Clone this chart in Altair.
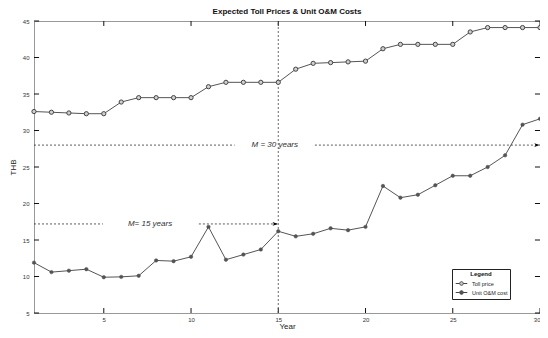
import altair as alt
import pandas as pd

years = list(range(1, 31))
toll_price = [32.6, 32.5, 32.4, 32.3, 32.3, 33.9, 34.5, 34.5, 34.5, 34.5,
              36.0, 36.6, 36.6, 36.6, 36.6, 38.4, 39.2, 39.3, 39.4, 39.5,
              41.2, 41.8, 41.8, 41.8, 41.8, 43.5, 44.1, 44.1, 44.1, 44.1]
om_cost = [11.9, 10.6, 10.8, 11.0, 9.9, 9.95, 10.1, 12.2, 12.1, 12.7,
           16.8, 12.3, 13.0, 13.7, 16.2, 15.5, 15.85, 16.6, 16.35, 16.8,
           22.4, 20.8, 21.2, 22.5, 23.8, 23.8, 25.0, 26.6, 30.8, 31.6]
series_names = ["Toll price", "Unit O&M cost"]

x_ticks = [5, 10, 15, 20, 25, 30]
y_ticks = [5, 10, 15, 20, 25, 30, 35, 40, 45]

# annotations
ann_text = ["M = 30 years", "M= 15 years"]
ann_x = [14.8, 7.65]
ann_y = [28.0, 17.2]
seg_x = [1, 17.1, 1, 10.45]
seg_x2 = [12.5, 30, 4.95, 15]
seg_y = [28.0, 28.0, 17.2, 17.2]
arrow_x = [30, 15]
arrow_y = [28.0, 17.2]
vline_year = 15

FONT = "Liberation Sans"
XMIN, XMAX, YMIN, YMAX = 1, 30, 5, 45

df = pd.DataFrame({
    "year": years * 2,
    "value": toll_price + om_cost,
    "series": [series_names[0]] * 30 + [series_names[1]] * 30,
})

xs = alt.Scale(domain=[XMIN, XMAX], nice=False, zero=False)
ys = alt.Scale(domain=[YMIN, YMAX], nice=False, zero=False)

x_axis = alt.Axis(values=x_ticks, tickSize=0, domain=False, grid=False,
                  labelPadding=3, labelFontSize=6, labelColor="#333", labelFlush=True,
                  titleFontSize=8, titleFontWeight="normal", labelOverlap=False,
                  titleColor="#222", titlePadding=0, labelFont=FONT, titleFont=FONT)
y_axis = alt.Axis(values=y_ticks, tickSize=0, domain=False, grid=False,
                  labelPadding=5, labelFontSize=6, labelColor="#333",
                  titleFontSize=8, titleFontWeight="normal", labelOverlap=False,
                  titleColor="#222", titlePadding=5, labelFont=FONT, titleFont=FONT)


def X(field):
    return alt.X(field, scale=xs, axis=x_axis, title="Year")


def Y(field):
    return alt.Y(field, scale=ys, axis=y_axis, title="THB")


base = alt.Chart(df)

lines = base.mark_line(strokeWidth=1, color="#555").encode(
    x=X("year:Q"), y=Y("value:Q"), detail="series:N",
)

legend_path = ("M-1.6,0H-0.5 M0.5,0H1.6 "
               "M0.5,0A0.5,0.5 0 1,1 -0.5,0A0.5,0.5 0 1,1 0.5,0")
fill_scale = alt.Scale(domain=series_names, range=["#cfcfcf", "#555555"])
leg = alt.Legend(title="Legend", orient="none", legendX=418, legendY=248,
                 titleAnchor="middle", titleFontSize=6, titleFont=FONT,
                 titleFontWeight="bold", labelFontSize=5.5, labelFont=FONT,
                 labelColor="#222", titleColor="#111",
                 strokeColor="#222", fillColor="white", padding=2,
                 symbolType=legend_path, symbolSize=52, symbolStrokeColor="#444",
                 symbolStrokeWidth=1, rowPadding=0, titlePadding=2,
                 symbolOffset=3, labelOffset=6, titleLimit=100)

toll_pts = base.transform_filter(alt.datum.series == series_names[0]).mark_point(
    shape="circle", size=18, filled=True, stroke="#444", strokeWidth=1, opacity=1
).encode(x=X("year:Q"), y=Y("value:Q"),
         fill=alt.Fill("series:N", scale=fill_scale, legend=leg))

om_pts = base.transform_filter(alt.datum.series == series_names[1]).mark_point(
    shape="circle", size=12, filled=True, stroke="#444", strokeWidth=0.5, opacity=1
).encode(x=X("year:Q"), y=Y("value:Q"),
         fill=alt.Fill("series:N", scale=fill_scale, legend=leg))

# vertical dashed line
vdf = pd.DataFrame({"x": [vline_year], "y": [YMIN], "y2": [YMAX]})
vline = alt.Chart(vdf).mark_rule(strokeDash=[2, 2], color="#444", strokeWidth=0.8).encode(
    x=X("x:Q"), y=Y("y:Q"), y2="y2:Q")

sdf = pd.DataFrame({"x": seg_x, "x2": seg_x2, "y": seg_y})
segs = alt.Chart(sdf).mark_rule(strokeDash=[2, 2], color="#333", strokeWidth=0.8).encode(
    x=X("x:Q"), x2="x2:Q", y=Y("y:Q"))

adf = pd.DataFrame({"x": arrow_x, "y": arrow_y})
arrows = alt.Chart(adf).mark_point(shape="M-1,-0.7L1,0L-1,0.7L-0.5,0Z", filled=True, color="#000",
                                   size=30, opacity=1, xOffset=-3).encode(
    x=X("x:Q"), y=Y("y:Q"))

tdf = pd.DataFrame({"x": ann_x, "y": ann_y, "t": ann_text})
texts = alt.Chart(tdf).mark_text(fontStyle="italic", fontSize=8, font=FONT, color="#333").encode(
    x=X("x:Q"), y=Y("y:Q"), text="t:N")

# inward ticks (MATLAB style)
tick_len_x = 0.29
tick_len_y = 0.68
bt = pd.DataFrame({"x": x_ticks, "y": [YMIN] * len(x_ticks), "y2": [YMIN + tick_len_y] * len(x_ticks)})
tt = pd.DataFrame({"x": x_ticks, "y": [YMAX - tick_len_y] * len(x_ticks), "y2": [YMAX] * len(x_ticks)})
lt = pd.DataFrame({"y": y_ticks, "x": [XMIN] * len(y_ticks), "x2": [XMIN + tick_len_x] * len(y_ticks)})
rt = pd.DataFrame({"y": y_ticks, "x": [XMAX - tick_len_x] * len(y_ticks), "x2": [XMAX] * len(y_ticks)})
tick_style = dict(color="#111", strokeWidth=1)
ticks = [
    alt.Chart(bt).mark_rule(**tick_style).encode(x=X("x:Q"), y=Y("y:Q"), y2="y2:Q"),
    alt.Chart(tt).mark_rule(**tick_style).encode(x=X("x:Q"), y=Y("y:Q"), y2="y2:Q"),
    alt.Chart(lt).mark_rule(**tick_style).encode(y=Y("y:Q"), x=X("x:Q"), x2="x2:Q"),
    alt.Chart(rt).mark_rule(**tick_style).encode(y=Y("y:Q"), x=X("x:Q"), x2="x2:Q"),
]

chart = alt.layer(lines, *ticks, vline, segs, arrows, texts, toll_pts, om_pts).properties(
    width=506, height=292,
    title=alt.Title("Expected Toll Prices & Unit O&M Costs", fontSize=8, font=FONT,
                    fontWeight="bold", color="#111", offset=2, anchor="middle"),
    autosize=alt.AutoSizeParams(type="none"),
    padding={"left": 26, "top": 13, "right": 0, "bottom": 17},
    background="white",
).configure_view(stroke="#999", strokeWidth=1)

chart.save("out.html", embed_options={"renderer": "svg", "actions": False})
